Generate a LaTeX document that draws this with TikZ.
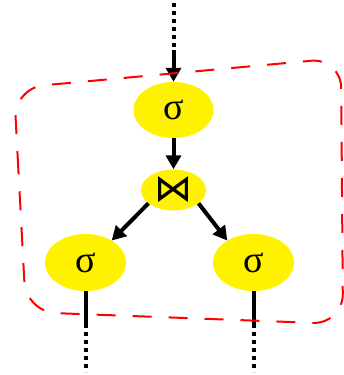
\documentclass[tikz,border=0pt]{standalone}
\usepackage{fontspec}
\setmainfont{Liberation Serif}
\newfontfamily\symfont{DejaVu Sans}
\usetikzlibrary{shapes.geometric,arrows.meta}

\begin{document}
\begin{tikzpicture}[x=1pt,y=-1pt,
    every node/.style={font=\fontsize{38}{40}\selectfont},
    opnode/.style={ellipse, fill=opyellow, inner sep=0pt},
    flecha/.style={line width=4pt, -{Triangle[length=14pt,width=15pt]}},
    tallo/.style={line width=4pt},
    puntos/.style={line width=4pt, dash pattern=on 4pt off 4pt},
    marco/.style={draw=red, line width=2pt, dash pattern=on 19pt off 17pt, rounded corners=30pt}]

    % colores
    \definecolor{opyellow}{RGB}{255,242,0}

    % parámetros
    \def\xc{173.5}    % eje central
    \def\xl{85.5}     % eje izquierdo
    \def\xr{253.5}    % eje derecho
    \def\yh{262.5}    % altura de las hojas

    % marco
    \useasboundingbox (0,0) rectangle (343,375);

    % --- nodos ---
    \node[opnode, minimum width=80pt, minimum height=56pt] (selTop) at (\xc,110) {σ};
    \node[opnode, minimum width=65pt, minimum height=41pt] (join) at (\xc,190)
        {\symfont\fontsize{38}{40}\selectfont ⋈};
    \node[opnode, minimum width=81pt, minimum height=57pt] (selL) at (\xl,\yh) {σ};
    \node[opnode, minimum width=81pt, minimum height=57pt] (selR) at (\xr,\yh) {σ};

    % --- entrada superior ---
    \coordinate (inTop) at (\xc,3);
    \coordinate (inMid) at (\xc,50);
    \draw[puntos] (inTop) -- (inMid);
    \draw[flecha] (inMid) -- (selTop.north);

    % --- aristas internas ---
    \draw[flecha] (selTop.south) -- (join.north);
    \draw[flecha] (join.208) -- (selL.40);
    \draw[flecha] (join.332) -- (selR.140);

    % --- salidas inferiores ---
    \coordinate (outLmid) at (\xl,324);
    \coordinate (outLend) at (\xl,372);
    \coordinate (outRmid) at (\xr,324);
    \coordinate (outRend) at (\xr,372);
    \draw[tallo] (selL.south) -- (outLmid);
    \draw[puntos] (outLmid) -- (outLend);
    \draw[tallo] (selR.south) -- (outRmid);
    \draw[puntos] (outRmid) -- (outRend);

    % --- contorno rojo discontinuo ---
    \draw[marco] (20,200) -- (14,88) -- (341,58) -- (343,324) -- (26,312) -- cycle;
\end{tikzpicture}
\end{document}
